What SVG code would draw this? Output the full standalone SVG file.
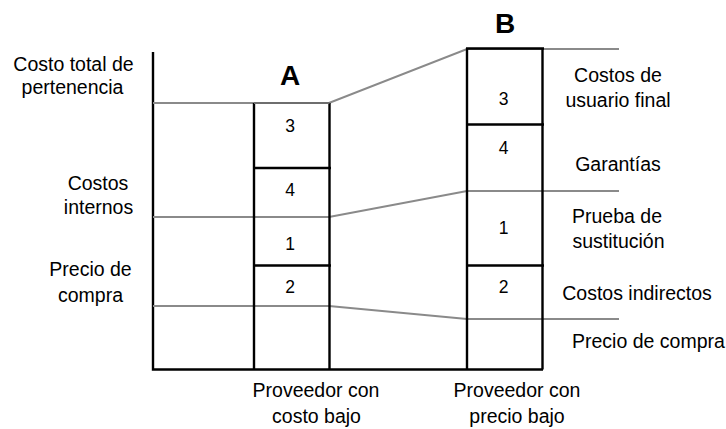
<svg xmlns="http://www.w3.org/2000/svg" width="726" height="429" viewBox="0 0 726 429">
<style>
text{font-family:"Liberation Sans",Arial,sans-serif;font-size:19.5px;fill:#000}
.c{text-anchor:middle}
.n{font-size:17.5px;text-anchor:middle}
.h{font-size:28px;font-weight:bold;text-anchor:middle}
.k{stroke:#000;stroke-width:2.4;fill:none}
.g{stroke:#8a8a8a;stroke-width:2.2;fill:none}
</style>
<rect width="726" height="429" fill="#fff"/>
<g id="axes">
<path class="k" d="M153,52 V369.5 H543"/>
</g>
<g id="connectors">
<polyline class="g" points="153,103 329,103 467,49 619,49"/>
<polyline class="g" points="153,217 329,217 467,191 619,191"/>
<polyline class="g" points="153,306 329,306 467,319 619,319"/>
</g>
<g id="colA">
<path class="k" d="M254,103 V369.5 M329.5,103 V369.5 M254,168 H331 M254,265.5 H331"/>
<path d="M254,103 H329.5" stroke="#6e6e6e" stroke-width="2.2"/>
<text class="h" x="290" y="85">A</text>
<text class="n" x="290" y="131.5">3</text>
<text class="n" x="290" y="196">4</text>
<text class="n" x="290" y="250">1</text>
<text class="n" x="290" y="292.5">2</text>
<text class="c" x="316" y="397">Proveedor con</text>
<text class="c" x="316.5" y="423">costo bajo</text>
</g>
<g id="colB">
<path class="k" d="M467,48.5 V369.5 M542.5,48.5 V369.5 M466,48.5 H544 M467,124.5 H544 M467,265.5 H544"/>
<text class="h" x="505" y="33">B</text>
<text class="n" x="503.5" y="104.5">3</text>
<text class="n" x="503.5" y="153.5">4</text>
<text class="n" x="503.5" y="234">1</text>
<text class="n" x="503.5" y="292.5">2</text>
<text class="c" x="517" y="397">Proveedor con</text>
<text class="c" x="517" y="423">precio bajo</text>
</g>
<g id="left-labels">
<text class="c" x="73.5" y="70.5">Costo total de</text>
<text class="c" x="72.5" y="94">pertenencia</text>
<text class="c" x="98" y="189.5">Costos</text>
<text class="c" x="98.5" y="214">internos</text>
<text class="c" x="90.5" y="276">Precio de</text>
<text class="c" x="90.5" y="301.5">compra</text>
</g>
<g id="right-labels">
<text class="c" x="618" y="82">Costos de</text>
<text class="c" x="618" y="107">usuario final</text>
<text class="c" x="618" y="171">Garantías</text>
<text class="c" x="617" y="222.5">Prueba de</text>
<text class="c" x="618.5" y="248">sustitución</text>
<text class="c" x="637" y="299.5">Costos indirectos</text>
<text x="572" y="347.5">Precio de compra</text>
</g>
</svg>
